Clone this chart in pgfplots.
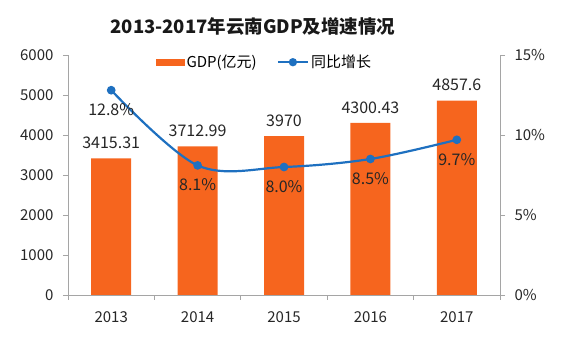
\documentclass[border=0pt]{standalone}
\usepackage{pgfplots}
\pgfplotsset{compat=1.18}
\usepackage{fontspec}
\setmainfont{Noto Sans CJK SC}
\definecolor{barorange}{RGB}{246,101,30}
\definecolor{lineblue}{RGB}{30,112,192}
\definecolor{axgray}{RGB}{165,165,165}
\begin{document}
\begin{tikzpicture}[x=1pt,y=1pt]
\useasboundingbox (-68,-45) rectangle (503,295);
\pgfplotsset{common/.style={
  scale only axis, width=432pt, height=240pt, at={(0,0)}, anchor=south west,
  xmin=-0.5, xmax=4.5,
  /pgf/number format/assume math mode=true,
  tick label style={font=\fontsize{15}{17}\selectfont, text=black!85},
  axis line style={axgray, line width=0.8pt},
  tick style={axgray, line width=0.8pt},
  tick align=outside,
  major tick length=5pt, minor tick length=5pt,
}}
\begin{axis}[common,
  axis y line*=left, axis x line*=bottom,
  ymin=0, ymax=6000, ytick={0,1000,...,6000},
  yticklabel style={/pgf/number format/1000 sep={}, xshift=-6pt},
  scaled y ticks=false,
  xtick={0,1,2,3,4}, xticklabels={2013,2014,2015,2016,2017},
  major x tick style={draw=none},
  minor xtick={-0.5,0.5,1.5,2.5,3.5,4.5},
  xticklabel style={yshift=-8pt},
  ybar, bar width=40pt,
]
\addplot[fill=barorange, draw=none, bar shift=0pt,
  nodes near coords, point meta=explicit symbolic,
  every node near coord/.append style={font=\fontsize{16}{18}\selectfont, text=black!85, anchor=south, yshift=6pt}]
  table[meta=lab] {
x y lab
0 3415.31 3415.31
1 3712.99 3712.99
2 3970 3970
3 4300.43 4300.43
4 4857.6 4857.6
};
\end{axis}
\begin{axis}[common,
  axis y line*=right, axis x line=none,
  ymin=0, ymax=15, ytick={0,5,10,15},
  yticklabel={\pgfmathprintnumber{\tick}\%},
  yticklabel style={xshift=6pt},
  legend style={at={(0.455,0.97)}, anchor=center, draw=none, fill=none,
    font=\fontsize{15}{17}\selectfont, legend columns=2,
    /tikz/every even column/.append style={column sep=18pt}},
]
\addlegendimage{legend image code/.code={\fill[barorange] (0pt,-3pt) rectangle (28pt,3pt);}}
\addlegendentry{GDP(亿元)}
\addplot[lineblue, line width=2.2pt, smooth, tension=0.55, mark=*, mark size=3.2pt,
  mark options={fill=lineblue, draw=lineblue},
  legend image code/.code={\draw[lineblue, line width=2.2pt] (0pt,0pt) -- (30pt,0pt); \fill[lineblue] (15pt,0pt) circle (3pt);},
  nodes near coords, point meta=explicit symbolic,
  every node near coord/.append style={font=\fontsize{16}{18}\selectfont, text=black!85, anchor=north, yshift=-9pt}]
  table[meta=lab] {
x y lab
0 12.8 12.8\%
1 8.1 8.1\%
2 8.0 8.0\%
3 8.5 8.5\%
4 9.7 9.7\%
};
\addlegendentry{同比增长}
\end{axis}
\node[font=\fontsize{18.5}{22}\selectfont\bfseries, text=black!90] at (185,268) {2013-2017年云南GDP及增速情况};
\end{tikzpicture}
\end{document}
